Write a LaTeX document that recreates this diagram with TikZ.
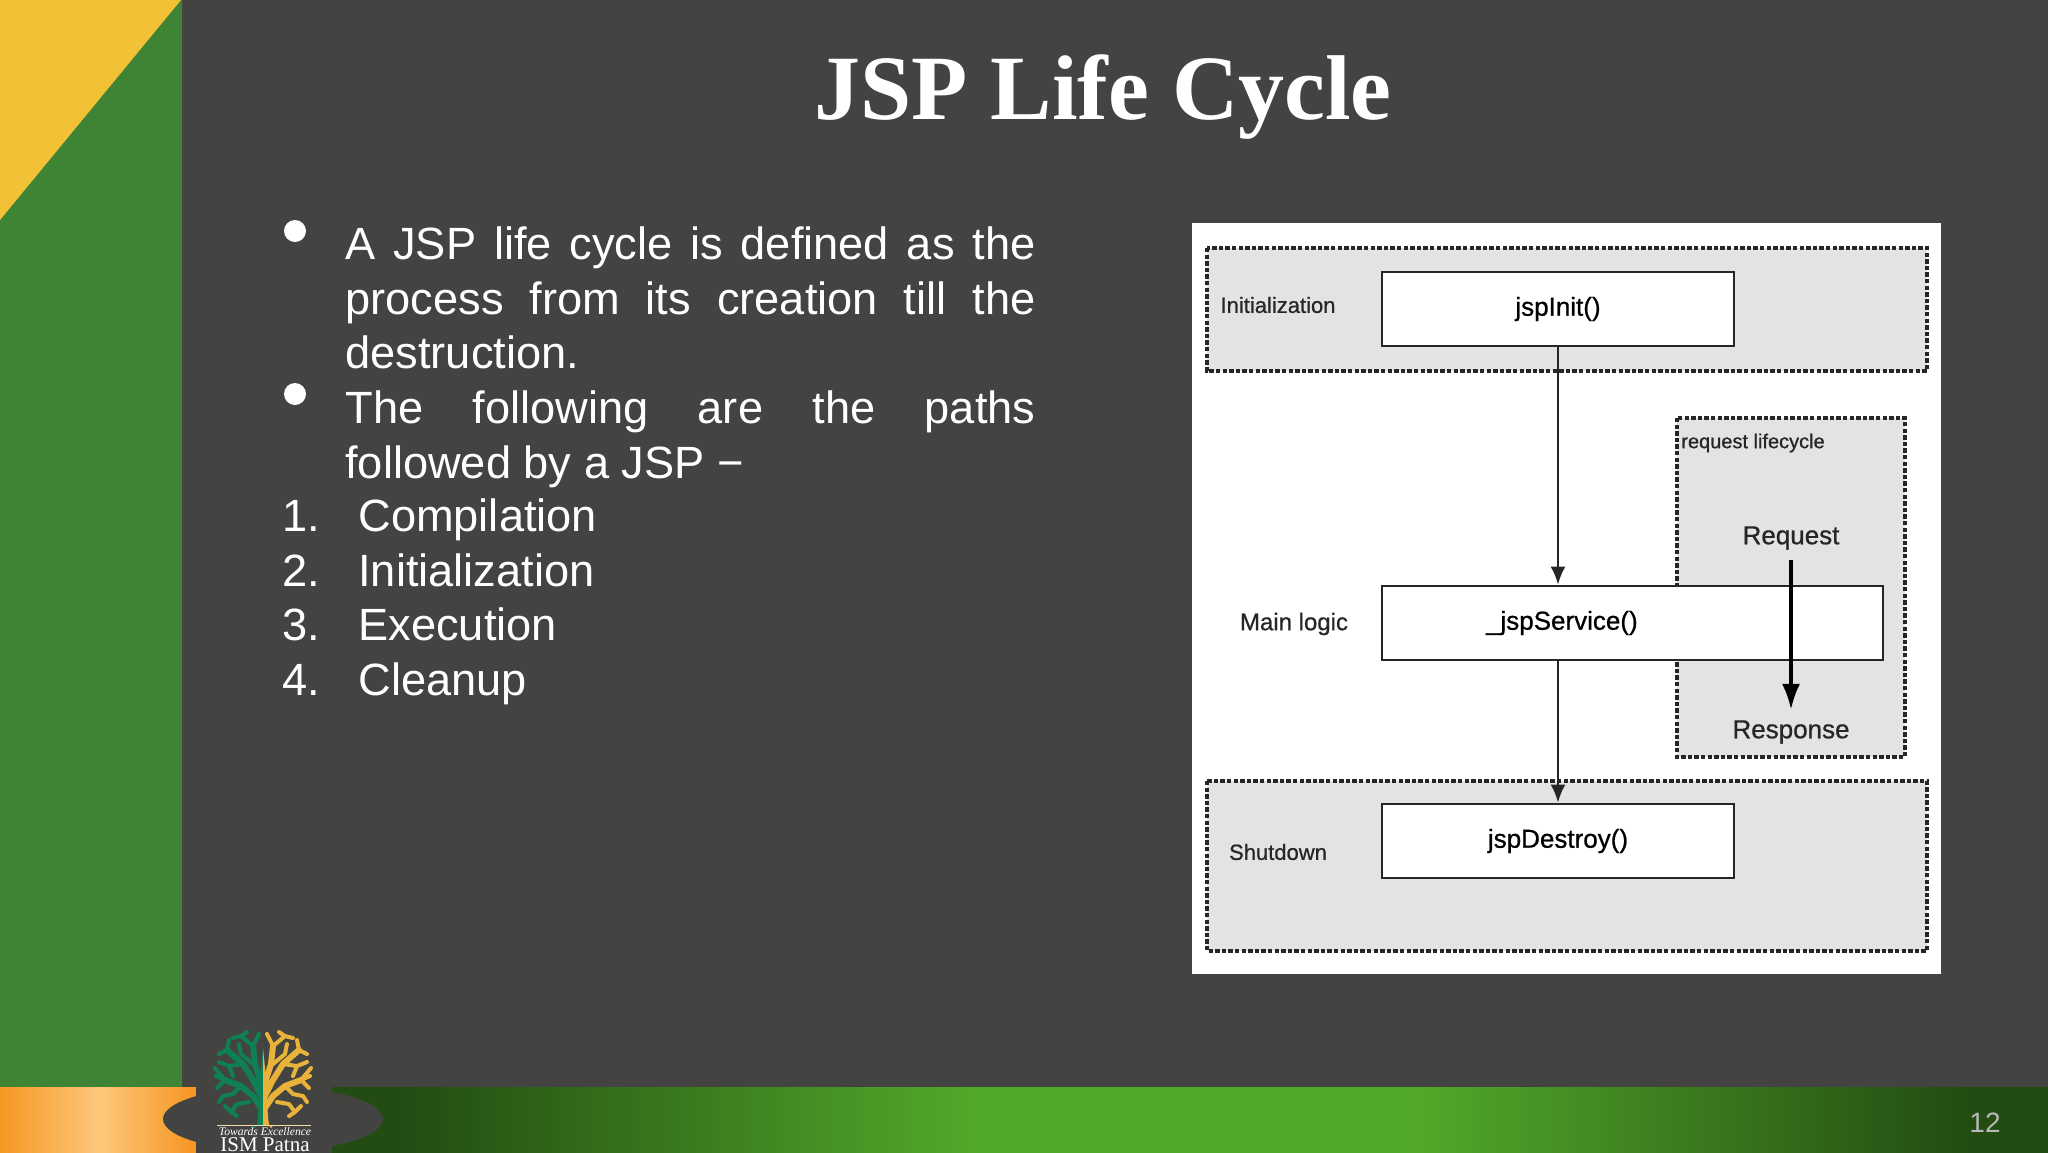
\documentclass[tikz,border=0pt]{standalone}
\usepackage{fontspec}
\setmainfont{Liberation Sans}
\newfontfamily\titlefont{Liberation Serif}
\newfontfamily\diagfont[FakeBold=0.8]{Liberation Sans}
\usetikzlibrary{arrows.meta,shapes.geometric}
\definecolor{slate}{HTML}{434442}
\definecolor{leaf}{HTML}{3F8335}
\definecolor{sun}{HTML}{F3C135}
\definecolor{zonegray}{HTML}{E3E3E3}
\definecolor{treegreen}{HTML}{0F7F56}
\definecolor{treegold}{HTML}{E9B23A}
\definecolor{bardark}{HTML}{224C12}
\definecolor{barbright}{HTML}{52A82A}
\definecolor{orangeA}{HTML}{F5951F}
\definecolor{orangeB}{HTML}{FCC77C}
\newcommand{\halftree}{%
  \draw[line width=3pt,line cap=round,line join=round] (2,30) -- (10,18) -- (22,8) -- (38,2)
    (2,18) -- (10,2) -- (20,-14) -- (36,-28)
    (2,5) -- (8,-14) -- (10,-32);
  \draw[tbranch] (38,2) -- (47,-2) (10,-32) -- (22,-42) -- (30,-40)
    (22,8) -- (30,16) -- (40,18) (38,2) -- (46,10) (38,2) -- (48,-10)
    (20,-14) -- (34,-12) -- (44,-16) (36,-28) -- (44,-24) (36,-28) -- (34,-38)
    (10,-32) -- (4,-44) (10,-14) -- (22,-24) -- (24,-34)
    (14,24) -- (26,26) -- (32,34) -- (26,38) (32,34) -- (38,28)
    (22,-42) -- (16,-46) (40,18) -- (44,24) (34,-12) -- (30,-2);
}
\tikzset{
 x=0.5pt,y=-0.5pt,
 zone/.style={draw=black!85,fill=zonegray,line width=1.8pt,dash pattern=on 2.2pt off 1.1pt},
 func/.style={draw=black!85,fill=white,line width=1.4pt,minimum height=37pt,inner sep=0pt,font=\diagfont\fontsize{13}{15}\selectfont},
 lab/.style={text=black!85,inner sep=0pt,font=\diagfont\fontsize{11}{13}\selectfont},
 flow/.style={draw=black!85,line width=1.25pt,-{Latex[length=9pt,width=7.5pt]}},
 flowb/.style={draw=black,line width=2pt,-{Latex[length=13pt,width=9pt]}},
 body/.style={text=white,inner sep=0pt,anchor=north west,align=justify,font=\fontsize{22.6}{27.3}\selectfont},
 item/.style={text=white,inner sep=0pt,anchor=base west,font=\fontsize{22.6}{27.3}\selectfont},
 dot/.style={circle,fill=white,inner sep=0pt,minimum size=11pt},
 tbranch/.style={line width=2pt,line cap=round,line join=round},
}
\begin{document}
\begin{tikzpicture}
\useasboundingbox (0,0) rectangle (2048,1152);
\fill[slate] (-10,-10) rectangle (2060,1165);
% left band
\fill[leaf] (0,0) rectangle (182,1087);
\fill[sun] (0,0) -- (181,0) -- (0,220) -- cycle;
% bottom band
\fill[left color=orangeA,right color=orangeB] (-5,1087) rectangle (100,1165);
\fill[left color=orangeB,right color=orangeA] (100,1087) rectangle (196,1165);
\fill[bardark] (332,1087) rectangle (400,1165);
\fill[left color=bardark,right color=barbright] (400,1087) rectangle (970,1165);
\fill[barbright] (970,1087) rectangle (1415,1165);
\fill[left color=barbright,right color=bardark] (1415,1087) rectangle (1972,1165);
\fill[bardark] (1972,1087) rectangle (2060,1165);
% logo ground
\fill[slate] (273,1119) ellipse (110 and 32);
\fill[slate] (196,1087) rectangle (332,1165);
% tree
\begin{scope}[shift={(263,1078)}]
  \begin{scope}[treegreen,xscale=-1]\halftree\end{scope}
  \begin{scope}[treegold]\halftree\end{scope}
  \fill[treegreen] (-10,47) to[out=-70,in=-90] (-4,10) -- (0,-30) -- (0,47) -- cycle;
  \fill[treegold] (10,47) to[out=-110,in=-90] (4,10) -- (0,-30) -- (0,47) -- cycle;
\end{scope}
\coordinate (rulea) at (217,1125.5);
\coordinate (ruleb) at (311,1125.5);
\draw[white!55!treegold,line width=0.4pt] (rulea) -- (ruleb);
\node[text=white,inner sep=0pt,font=\titlefont\itshape\fontsize{5.8}{7}\selectfont] (motto) at (265,1132) {Towards Excellence};
\node[text=white,inner sep=0pt,anchor=base,font=\titlefont\fontsize{10.5}{11}\selectfont] (ism) at (265,1151) {ISM Patna};
% title
\node[text=white,inner sep=0pt,font=\titlefont\bfseries\fontsize{46}{50}\selectfont] (title) at (1103,97) {JSP Life Cycle};
% text
\node[dot] (b1) at (295,231) {};
\node[dot] (b2) at (295,394) {};
\node[body,text width=345pt] (p1) at (345,226.5) {A JSP life cycle is defined as the\linebreak process from its creation till the\linebreak destruction.};
\node[body,text width=345pt] (p2) at (345,390.5) {The following are the paths\linebreak followed by a JSP −};
\foreach \n/\t/\y in {1/Compilation/531,2/Initialization/586,3/Execution/640,4/Cleanup/695}{
  \node[item] (n\n) at (282,\y) {\n.};
  \node[item] (t\n) at (358,\y) {\t};
}
% diagram
\fill[white] (1192,223) rectangle (1941,974);
\draw[zone] (1207,248) rectangle (1927,371);
\draw[zone] (1677,418) rectangle (1905,757);
\draw[zone] (1207,781) rectangle (1927,951);
\node[func,minimum width=176pt] (init) at (1558,309) {jspInit()};
\node[func,minimum width=250.5pt,text width=250.5pt,align=left] (svc) at (1632.5,623) {\hspace{52pt}\_jspService()};
\node[func,minimum width=176pt] (destroy) at (1558,841) {jspDestroy()};
\node[lab] (li) at (1278,305) {Initialization};
\node[lab,font=\diagfont\fontsize{12}{14}\selectfont] (lm) at (1294,624) {Main logic};
\node[lab] (ls) at (1278,852) {Shutdown};
\node[lab,font=\diagfont\fontsize{10}{12}\selectfont] (lr) at (1753,443) {request lifecycle};
\node[lab,font=\diagfont\fontsize{13}{15}\selectfont] (req) at (1791,538) {Request};
\node[lab,font=\diagfont\fontsize{13}{15}\selectfont] (resp) at (1791,732) {Response};
\draw[flow] (init.south) -- (svc.north -| init.south);
\draw[flow] (svc.south -| init.south) -- (destroy.north);
\draw[flowb,shorten <=5pt,shorten >=5pt] (req.south) -- (resp.north);
% page number
\node[text=white!62!slate,inner sep=0pt,font=\fontsize{14}{16}\selectfont] (pg) at (1985,1123) {12};
\end{tikzpicture}
\end{document}
